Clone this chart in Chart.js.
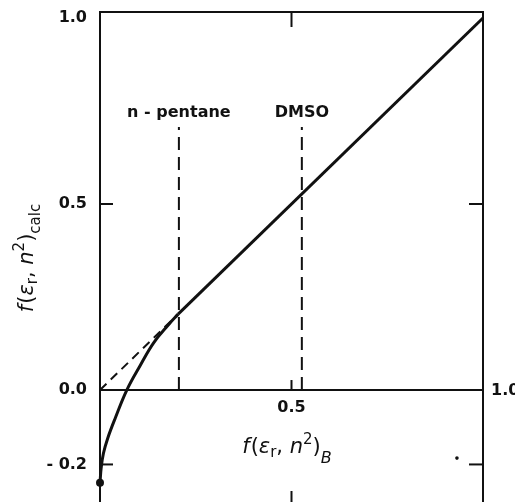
<!DOCTYPE html>
<html><head><meta charset="utf-8">
<script src="https://cdn.jsdelivr.net/npm/chart.js@4"></script>
<style>html,body{margin:0;padding:0;background:#fff;overflow:hidden}canvas{display:block}</style>
</head><body>
<canvas id="c" width="515" height="510"></canvas>
<script>
// ---- data ----
const curveX = [0, 0.003, 0.009, 0.02, 0.04, 0.07, 0.105, 0.14, 0.18, 0.204];
const curveY = [-0.249, -0.21, -0.17, -0.13, -0.075, 0, 0.066, 0.127, 0.177, 0.204];
const lineX = [0.204, 1.0];
const lineY = [0.204, 1.0];
const dashX = [0, 0.204];
const dashY = [0, 0.204];
const solventNames = ['n - pentane', 'DMSO'];
const solventX = [0.206, 0.527];
const solventTop = [0.707, 0.707];
const solventLabelY = [0.734, 0.734];
const strayX = [0.932];
const strayY = [-0.183];
const yTicks = [-0.2, 0, 0.5, 1.0];
const yTickLabels = ['- 0.2', '0.0', '0.5', '1.0'];
const xTicks = [0.5];
const xTickLabels = ['0.5'];
const xEndLabel = '1.0';
const X_MIN = 0, X_MAX = 1.0, Y_MIN = -0.309, Y_MAX = 1.016;

const pts = (xs, ys) => xs.map((x, i) => ({x, y: ys[i]}));
const BLACK = '#111';
const TICKFONT = {family: 'DejaVu Sans', size: 16, weight: 'bold'};

const datasets = [
  {data: pts(curveX, curveY), borderColor: BLACK, borderWidth: 3, tension: 0.4,
   pointRadius: curveX.map((v, i) => i === 0 ? 4 : 0), pointBackgroundColor: BLACK, pointBorderWidth: 0},
  {data: pts(lineX, lineY), borderColor: BLACK, borderWidth: 3, pointRadius: 0},
  {data: pts(dashX, dashY), borderColor: BLACK, borderWidth: 2, borderDash: [9, 6], pointRadius: 0},
];
solventX.forEach((sx, i) => datasets.push({
  data: [{x: sx, y: 0}, {x: sx, y: solventTop[i]}], borderColor: BLACK, borderWidth: 2,
  borderDash: [13, 7], pointRadius: 0
}));
datasets.forEach(d => { d.showLine = true; });
datasets.push({data: pts(strayX, strayY), showLine: false, pointRadius: 1.8, pointBackgroundColor: BLACK, pointBorderWidth: 0});
datasets.forEach(d => { d.clip = false; d.fill = false; });

function richText(ctx, segs, x, y, rotate) {
  ctx.save();
  ctx.translate(x, y);
  if (rotate) ctx.rotate(-Math.PI / 2);
  ctx.textAlign = 'left'; ctx.textBaseline = 'alphabetic'; ctx.fillStyle = BLACK;
  let w = 0;
  segs.forEach(s => { ctx.font = s.f; s.w = ctx.measureText(s.t).width + (s.sp || 0); w += s.w; });
  let cx = -w / 2;
  segs.forEach(s => { ctx.font = s.f; ctx.fillText(s.t, cx, s.dy || 0); cx += s.w; });
  ctx.restore();
}
const M = '21px "DejaVu Sans"', MI = 'italic 21px "DejaVu Sans"', S = '15px "DejaVu Sans"', SI = 'italic 16px "DejaVu Sans"';
const baseSegs = [
  {t: 'f', f: MI, sp: 1}, {t: '(', f: M}, {t: 'ε', f: MI}, {t: 'r', f: S, dy: 4},
  {t: ', ', f: M}, {t: 'n', f: MI}, {t: '2', f: S, dy: -9}, {t: ')', f: M}
];
const yTitle = baseSegs.map(s => ({...s})).concat([{t: 'calc', f: S, dy: 7}]);
const xTitle = baseSegs.map(s => ({...s})).concat([{t: 'B', f: SI, dy: 10}]);

const deco = {
  id: 'deco',
  afterDraw(chart) {
    const {ctx, chartArea: a, scales} = chart;
    const x = scales.x, y = scales.y;
    ctx.save();
    ctx.strokeStyle = BLACK; ctx.lineWidth = 2;
    const seg = (x1, y1, x2, y2) => { ctx.beginPath(); ctx.moveTo(x1, y1); ctx.lineTo(x2, y2); ctx.stroke(); };
    [0.5, -0.2].forEach(v => {
      const py = y.getPixelForValue(v);
      seg(a.left, py, a.left + 13, py);
      seg(a.right, py, a.right - 14, py);
    });
    const y0 = y.getPixelForValue(0);
    xTicks.forEach(v => {
      const px = x.getPixelForValue(v);
      seg(px, a.top, px, a.top + 15);
      seg(px, y0, px, y0 - 10);
      seg(px, a.bottom, px, a.bottom - 14);
    });
    ctx.fillStyle = BLACK;
    ctx.font = 'bold 16px "DejaVu Sans"';
    ctx.textAlign = 'left'; ctx.textBaseline = 'middle';
    ctx.fillText(xEndLabel, x.getPixelForValue(X_MAX) + 8, y0 + 1);
    ctx.textAlign = 'center'; ctx.textBaseline = 'alphabetic';
    solventNames.forEach((n, i) => ctx.fillText(n, x.getPixelForValue(solventX[i]), y.getPixelForValue(solventLabelY[i])));
    ctx.restore();
    richText(ctx, xTitle, 287, 453, false);
    richText(ctx, yTitle, 33, 258, true);
  }
};

const hiddenGrid = {display: true, drawOnChartArea: false, drawTicks: false};
const border = {display: true, color: BLACK, width: 2};
const noPad = s => { s.paddingTop = 0; s.paddingBottom = 0; s.paddingLeft = 0; s.paddingRight = 0; };

new Chart(document.getElementById('c'), {
  type: 'scatter',
  data: {datasets},
  options: {
    responsive: false, animation: false, devicePixelRatio: 1,
    layout: {padding: 0},
    plugins: {legend: {display: false}, tooltip: {enabled: false}},
    elements: {line: {borderCapStyle: 'butt', borderJoinStyle: 'round'}},
    scales: {
      x: {type: 'linear', position: {y: 0}, min: X_MIN, max: X_MAX,
          afterBuildTicks: s => { s.ticks = xTicks.map(v => ({value: v})); },
          ticks: {font: TICKFONT, color: BLACK, padding: 8, maxRotation: 0, callback: (v, i) => xTickLabels[i]},
          grid: hiddenGrid, border, afterFit: noPad},
      xTop: {type: 'linear', position: 'top', min: X_MIN, max: X_MAX, ticks: {display: false},
          grid: hiddenGrid, border, afterFit: s => { noPad(s); s.height = 12; }},
      xBot: {type: 'linear', position: 'bottom', min: X_MIN, max: X_MAX, ticks: {display: false},
          grid: hiddenGrid, border, afterFit: s => { noPad(s); s.height = 5; }},
      y: {type: 'linear', position: 'left', min: Y_MIN, max: Y_MAX,
          afterBuildTicks: s => { s.ticks = yTicks.map(v => ({value: v})); },
          ticks: {font: TICKFONT, color: BLACK, padding: 13, callback: (v, i) => yTickLabels[i]},
          grid: hiddenGrid, border, afterFit: s => { noPad(s); s.width = 100; }},
      yRight: {type: 'linear', position: 'right', min: Y_MIN, max: Y_MAX, ticks: {display: false},
          grid: hiddenGrid, border, afterFit: s => { noPad(s); s.width = 32; }}
    }
  },
  plugins: [deco]
});
</script>
</body></html>
